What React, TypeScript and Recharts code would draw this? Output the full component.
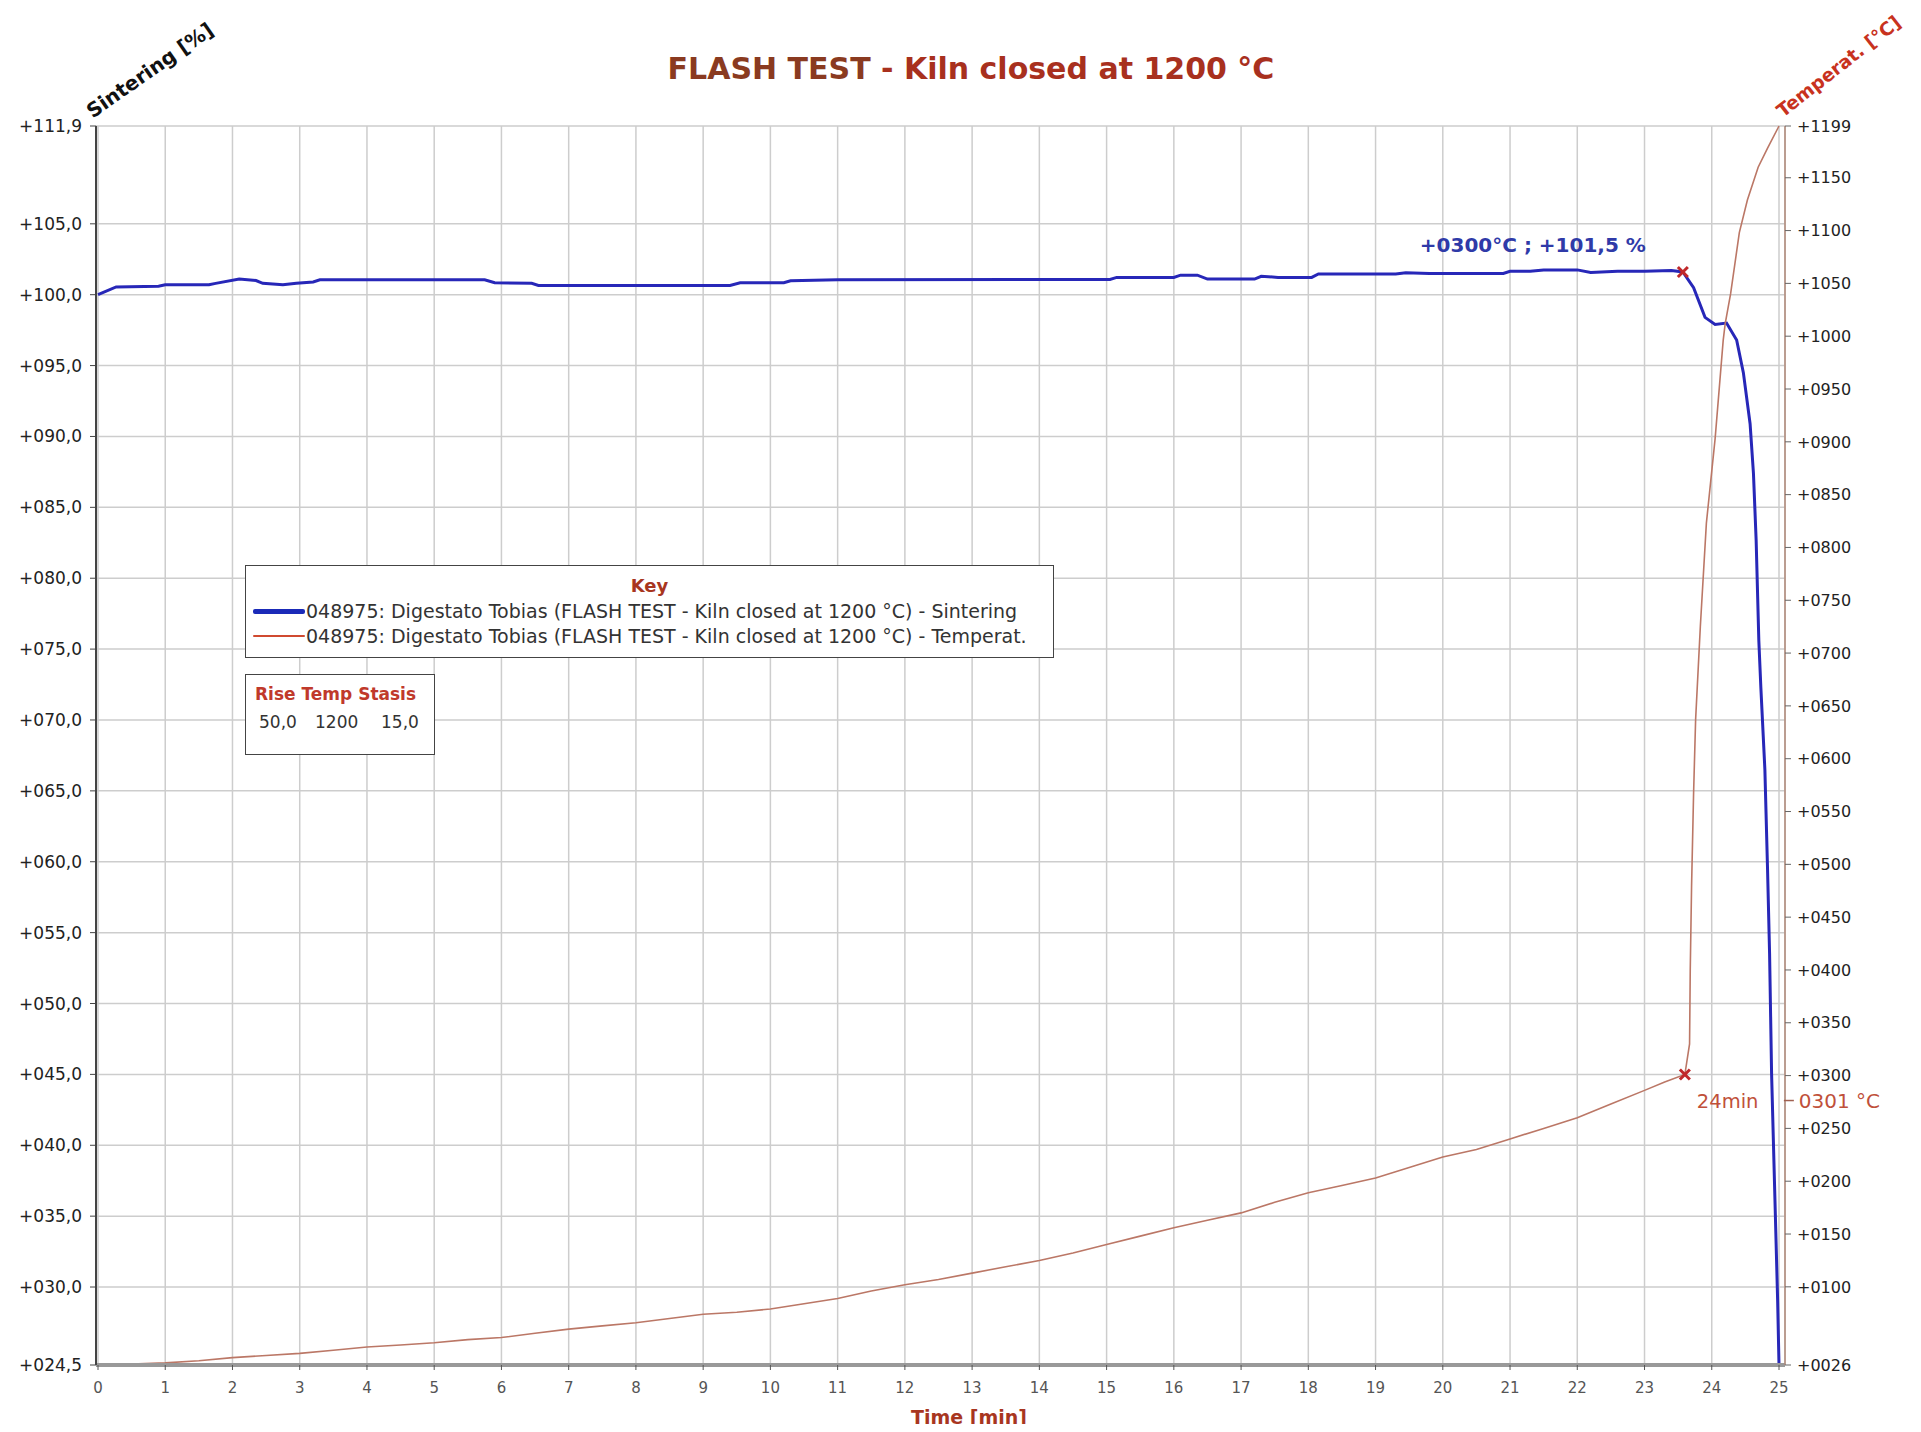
import React from 'react'
import {
  LineChart,
  Line,
  XAxis,
  YAxis,
  CartesianGrid,
  ReferenceDot,
  Legend,
} from 'recharts'

// time axis [min]
const minutes = [0, 1, 2, 3, 4, 5, 6, 7, 8, 9, 10, 11, 12, 13, 14, 15, 16, 17, 18, 19, 20, 21, 22, 23, 24, 25]
const sinteringTicks = [24.5, 30, 35, 40, 45, 50, 55, 60, 65, 70, 75, 80, 85, 90, 95, 100, 105, 111.9]
const tempTicks = [26, 100, 150, 200, 250, 300, 350, 400, 450, 500, 550, 600, 650, 700, 750, 800, 850, 900, 950, 1000, 1050, 1100, 1150, 1199]

// Sintering [%]
const sinteringTime = [
  0, 0.27, 0.9, 1.0, 1.65, 1.75, 2.1, 2.35, 2.45, 2.75, 2.95, 3.2, 3.3, 5.75, 5.9, 6.45, 6.55, 9.4, 9.55,
  10.2, 10.3, 11.0, 15.05, 15.15, 16.0, 16.1, 16.35, 16.5, 17.2, 17.3, 17.55, 18.05, 18.15, 19.3, 19.45,
  19.8, 20.9, 21.0, 21.3, 21.5, 22.0, 22.2, 22.6, 23.0, 23.4, 23.57, 23.73, 23.9, 24.05, 24.22, 24.37,
  24.47, 24.57, 24.62, 24.66, 24.7, 24.73, 24.79, 24.83, 24.86, 24.89, 24.94, 24.98, 25.0,
]
const sinteringValue = [
  100.0, 100.55, 100.6, 100.7, 100.7, 100.8, 101.1, 101.0, 100.8, 100.7, 100.8, 100.9, 101.05, 101.05, 100.85, 100.8, 100.65, 100.65, 100.84,
  100.84, 100.98, 101.05, 101.08, 101.22, 101.22, 101.38, 101.38, 101.1, 101.1, 101.3, 101.22, 101.22, 101.46, 101.46, 101.55,
  101.5, 101.5, 101.65, 101.65, 101.75, 101.75, 101.57, 101.65, 101.65, 101.7, 101.6, 100.5, 98.4, 97.9, 98.0, 96.8,
  94.5, 90.9, 87.4, 82.7, 75.6, 72.3, 66.5, 59.4, 53.5, 45.0, 36.1, 29.0, 24.5,
]

// Temperat. [°C]
const tempTime = [
  0, 0.5, 1, 1.5, 2, 2.5, 3, 3.5, 4, 4.5, 5, 5.5, 6, 6.5, 7, 7.5, 8, 8.5, 9, 9.5, 10, 10.5, 11, 11.5, 12,
  12.5, 13, 13.5, 14, 14.5, 15, 15.5, 16, 16.5, 17, 17.5, 18, 18.5, 19, 19.5, 20, 20.5, 21, 21.5, 22, 22.5,
  23, 23.3, 23.6, 23.67, 23.68, 23.7, 23.73, 23.76, 23.83, 23.92, 24.05, 24.17, 24.2, 24.28, 24.41, 24.53,
  24.69, 24.83, 25.0,
]
const tempValue = [
  27, 27, 28, 30, 33, 35, 37, 40, 43, 45, 47, 50, 52, 56, 60, 63, 66, 70, 74, 76, 79, 84, 89, 96, 102,
  107, 113, 119, 125, 132, 140, 148, 156, 163, 170, 180, 189, 196, 203, 213, 223, 230, 240, 250, 260, 273,
  286, 294, 301, 330, 400, 480, 568, 637, 725, 823, 903, 996, 1012, 1040, 1098, 1129,
  1160, 1178, 1199,
]

const sinteringData = sinteringTime.map((t, i) => ({ t, v: sinteringValue[i] }))
const tempData = tempTime.map((t, i) => ({ t, v: tempValue[i] }))

const FONT = "'DejaVu Sans', sans-serif"
const BROWN = '#a8361f'

const fmtSint = (v: number) => '+' + v.toFixed(1).padStart(5, '0').replace('.', ',')
const fmtTemp = (v: number) => '+' + String(Math.round(v)).padStart(4, '0')

const SinterMark = ({ cx, cy }: any) => (
  <g>
    <g stroke="#c0282a" strokeWidth={3}>
      <line x1={cx - 5} y1={cy - 5} x2={cx + 5} y2={cy + 5} />
      <line x1={cx - 5} y1={cy + 5} x2={cx + 5} y2={cy - 5} />
    </g>
    <text x={cx - 150} y={cy - 20} textAnchor="middle" fill="#2f3aa8" fontWeight="bold" fontSize={20} fontFamily={FONT}>
      +0300°C ; +101,5 %
    </text>
  </g>
)

const TempMark = ({ cx, cy }: any) => (
  <g>
    <g stroke="#c0282a" strokeWidth={3}>
      <line x1={cx - 5} y1={cy - 5} x2={cx + 5} y2={cy + 5} />
      <line x1={cx - 5} y1={cy + 5} x2={cx + 5} y2={cy - 5} />
    </g>
    <text x={cx + 12} y={cy + 33} fill="#c0503a" fontSize={19.5} fontFamily={FONT}>
      24min
    </text>
    <line x1={cx + 99} y1={cy + 26} x2={cx + 109} y2={cy + 26} stroke="#a06050" strokeWidth={1.5} />
    <text x={cx + 114} y={cy + 33} fill="#c0503a" fontSize={20} fontFamily={FONT}>
      0301 °C
    </text>
  </g>
)

const renderKey = (props: any) => {
  const items = props.payload || []
  return (
    <div
      style={{
        width: 809,
        height: 93,
        border: '1.5px solid #444',
        background: '#fff',
        fontFamily: FONT,
        boxSizing: 'border-box',
        position: 'relative',
      }}
    >
      <div style={{ textAlign: 'center', color: BROWN, fontWeight: 'bold', fontSize: 18, marginTop: 10, lineHeight: '20px' }}>
        Key
      </div>
      <div style={{ marginTop: 3 }}>
        {items.map((it: any, i: number) => (
          <div key={i} style={{ display: 'flex', alignItems: 'center', height: 24.5, fontSize: 19, color: '#333' }}>
            <span
              style={{
                display: 'inline-block',
                width: 52,
                marginLeft: 7,
                marginRight: 1,
                height: i === 0 ? 5 : 2,
                borderRadius: 2,
                background: i === 0 ? '#1a2ab8' : '#d04a30',
              }}
            />
            <span style={{ whiteSpace: 'nowrap' }}>{it.value}</span>
          </div>
        ))}
      </div>
    </div>
  )
}

const rotated = (deg: number, size: number): React.CSSProperties => ({
  position: 'absolute',
  fontSize: size,
  fontWeight: 'bold',
  lineHeight: '22px',
  whiteSpace: 'nowrap',
  transform: `rotate(${deg}deg)`,
  transformOrigin: 'left bottom',
})

export default function App() {
  return (
    <div style={{ position: 'relative', width: 1905, height: 1416, fontFamily: FONT, background: '#fff' }}>
      <div
        style={{
          position: 'absolute',
          left: 0,
          width: 1926,
          top: 44,
          textAlign: 'center',
          fontWeight: 'bold',
          fontSize: 30,
          lineHeight: '34px',
          whiteSpace: 'nowrap',
        }}
      >
        <span style={{ color: '#8a3a20' }}>FLASH TEST </span>
        <span style={{ color: '#a8301e' }}>- Kiln closed at 1200 °C</span>
      </div>
      <div style={{ ...rotated(-35, 20), left: 87, top: 92, color: '#111' }}>Sintering [%]</div>
      <div style={{ ...rotated(-38, 18.5), left: 1778, top: 92, color: '#c8321e' }}>Temperat. [°C]</div>

      <LineChart width={1905} height={1416} data={sinteringData} margin={{ top: 118, right: 8, bottom: 0, left: 8 }}>
        <CartesianGrid yAxisId="left" stroke="#cdcdcd" strokeWidth={1.5} />
        <XAxis
          dataKey="t"
          type="number"
          domain={[0, 25]}
          ticks={minutes}
          interval={0}
          padding={{ left: 2, right: 6 }}
          height={59}
          axisLine={{ stroke: '#999', strokeWidth: 4 }}
          tickLine={{ stroke: '#555' }}
          tickSize={5}
          tickMargin={12}
          tick={{ fill: '#555', fontSize: 15, fontFamily: FONT }}
        />
        <YAxis
          yAxisId="left"
          domain={[24.5, 111.9]}
          ticks={sinteringTicks}
          interval={0}
          width={80}
          axisLine={{ stroke: '#444', strokeWidth: 2 }}
          tickLine={{ stroke: '#444' }}
          tickSize={6}
          tickMargin={8}
          tickFormatter={fmtSint}
          tick={{ fill: '#222', fontSize: 17, fontFamily: FONT }}
        />
        <YAxis
          yAxisId="right"
          orientation="right"
          domain={[26, 1199]}
          ticks={tempTicks}
          interval={0}
          width={120}
          axisLine={{ stroke: '#b08878', strokeWidth: 1.5 }}
          tickLine={{ stroke: '#666' }}
          tickSize={6}
          tickMargin={6}
          tickFormatter={fmtTemp}
          tick={{ fill: '#222', fontSize: 16, fontFamily: FONT }}
        />
        <Line
          yAxisId="left"
          data={sinteringData}
          dataKey="v"
          name="048975: Digestato Tobias (FLASH TEST - Kiln closed at 1200 °C) - Sintering"
          type="linear"
          stroke="#2727b8"
          strokeWidth={3}
          dot={false}
          isAnimationActive={false}
        />
        <Line
          yAxisId="right"
          data={tempData}
          dataKey="v"
          name="048975: Digestato Tobias (FLASH TEST - Kiln closed at 1200 °C) - Temperat."
          type="linear"
          stroke="#bb7766"
          strokeWidth={1.6}
          dot={false}
          isAnimationActive={false}
        />
        <ReferenceDot yAxisId="left" x={23.57} y={101.6} shape={SinterMark} />
        <ReferenceDot yAxisId="right" x={23.6} y={301} shape={TempMark} />
        <Legend
          layout="horizontal"
          verticalAlign="middle"
          align="center"
          content={renderKey}
          wrapperStyle={{ left: 237, top: 557, width: 809, height: 93 }}
        />
      </LineChart>

      <div
        style={{
          position: 'absolute',
          left: 861,
          width: 200,
          top: 1398,
          textAlign: 'center',
          color: BROWN,
          fontWeight: 'bold',
          fontSize: 19,
          lineHeight: '22px',
        }}
      >
        Time [min]
      </div>

      <div
        style={{
          position: 'absolute',
          left: 237,
          top: 666,
          width: 190,
          height: 81,
          border: '1.5px solid #444',
          boxSizing: 'border-box',
          background: '#fff',
        }}
      >
        <div style={{ color: '#c0392b', fontWeight: 'bold', fontSize: 17, marginTop: 9, marginLeft: 9, whiteSpace: 'nowrap' }}>
          Rise Temp Stasis
        </div>
        <div style={{ display: 'flex', fontSize: 17, color: '#333', marginTop: 8, marginLeft: 13 }}>
          <span style={{ width: 56 }}>50,0</span>
          <span style={{ width: 66 }}>1200</span>
          <span>15,0</span>
        </div>
      </div>
    </div>
  )
}
